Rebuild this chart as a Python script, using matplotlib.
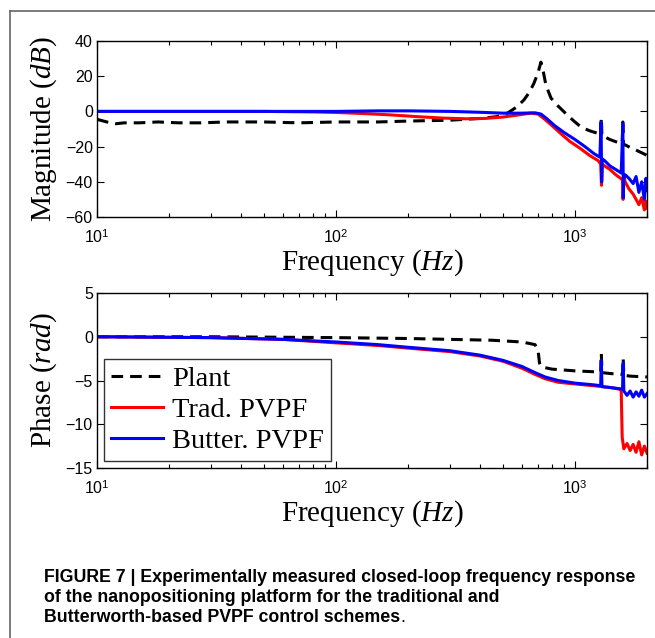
import matplotlib
matplotlib.use("Agg")
import matplotlib.pyplot as plt
from matplotlib.lines import Line2D
from matplotlib.ticker import FixedLocator, LogLocator, NullFormatter

# ---------------- data ----------------
plant_mag_f = [10, 11, 12, 13, 15, 18, 22, 27, 35, 50, 70, 100, 150, 200, 300, 400, 470, 524,
               570, 611, 645, 673, 700, 720, 738, 755, 793, 850, 900, 980, 1059, 1150, 1248,
               1280, 1288, 1296, 1310, 1400, 1500, 1575, 1585, 1595, 1620, 1700, 1800, 1900, 2000]
plant_mag_db = [-4.5, -6, -7, -6.5, -6.5, -6, -6.5, -6.5, -6, -6, -6.5, -6, -6, -5.5, -5, -4, -3,
                -0.8, 2.5, 6.5, 11, 16, 22, 28, 22, 15, 7.6, 3, -0.3, -5, -8.9, -11, -12.5,
                -13, -3.5, -14, -14, -16, -17.5, -18, -6, -19, -19, -20.5, -22, -23.5, -25]

trad_mag_f = [10, 20, 50, 80, 100, 130, 170, 220, 280, 350, 420, 500, 580, 650, 700, 740, 800,
              870, 950, 1050, 1150, 1250, 1280, 1290, 1300, 1330, 1400, 1480, 1550, 1580, 1588,
              1600, 1620, 1680, 1750, 1800, 1850, 1900, 1950, 1980, 2000]
trad_mag_db = [0, 0, 0, -0.3, -0.6, -1.2, -2, -3, -3.8, -4.2, -4, -3.2, -2, -1, -1.5, -4, -8,
               -12.5, -17, -21, -25, -28, -30, -42, -30, -31, -33, -36, -38, -39, -50, -37, -40,
               -44, -47, -50, -53, -49, -56, -51, -55]

butter_mag_f = [10, 20, 50, 100, 150, 200, 300, 400, 500, 600, 680, 720, 760, 820, 900, 1000,
                1100, 1200, 1270, 1285, 1292, 1300, 1330, 1400, 1480, 1560, 1585, 1592, 1600,
                1620, 1680, 1750, 1800, 1850, 1900, 1950, 1980, 2000]
butter_mag_db = [0, 0, 0, 0, 0.3, 0.3, 0, -0.5, -1, -1, -0.8, -1.5, -4, -8, -12, -16, -20, -24,
                 -26, -6, -40, -27, -28, -31, -33, -35, -7, -49, -36, -36, -38, -41, -37, -46,
                 -40, -50, -38, -45]

plant_ph_f = [10, 30, 100, 200, 300, 450, 600, 680, 700, 710, 720, 740, 800, 1000, 1200, 1280,
              1288, 1296, 1400, 1550, 1580, 1590, 1600, 1700, 2000]
plant_ph_rad = [0, 0, -0.1, -0.2, -0.3, -0.4, -0.6, -0.9, -1.5, -3, -3.4, -3.5, -3.7, -3.9,
                -4.0, -4.0, -1.9, -4.1, -4.2, -4.3, -4.3, -2.5, -4.4, -4.5, -4.6]

trad_ph_f = [10, 30, 60, 100, 150, 200, 300, 400, 500, 600, 680, 750, 850, 1000, 1200, 1400,
             1540, 1560, 1575, 1600, 1650, 1700, 1750, 1800, 1850, 1900, 1950, 2000]
trad_ph_rad = [0, -0.1, -0.3, -0.7, -1.0, -1.3, -1.7, -2.2, -2.8, -3.6, -4.3, -4.8, -5.2, -5.4,
               -5.6, -5.8, -6.0, -6.1, -11.5, -12.8, -12.2, -13.0, -12.3, -13.2, -12.0, -13.5,
               -12.5, -13.3]

butter_ph_f = [10, 30, 60, 100, 150, 200, 300, 400, 500, 600, 680, 750, 850, 1000, 1200, 1280,
               1288, 1296, 1400, 1500, 1580, 1590, 1600, 1650, 1700, 1750, 1800, 1850, 1900,
               1950, 2000]
butter_ph_rad = [0, -0.1, -0.3, -0.6, -0.9, -1.2, -1.6, -2.1, -2.7, -3.4, -4.1, -4.6, -5.0,
                 -5.3, -5.5, -5.6, -2.7, -5.7, -5.8, -5.9, -6.0, -3.0, -6.2, -6.7, -6.2, -6.9,
                 -6.3, -6.8, -6.1, -6.9, -6.5]

series_labels = ["Plant", "Trad. PVPF", "Butter. PVPF"]
xticks = [10, 100, 1000]
xtick_labels = [r"$10^{1}$", r"$10^{2}$", r"$10^{3}$"]
mag_yticks = [-60, -40, -20, 0, 20, 40]
phase_yticks = [-15, -10, -5, 0, 5]
caption_lines = ["FIGURE 7 | Experimentally measured closed-loop frequency response",
                 "of the nanopositioning platform for the traditional and",
                 "Butterworth-based PVPF control schemes"]

# ---------------- style ----------------
plt.rcParams["font.family"] = ["Liberation Serif", "DejaVu Serif"]
plt.rcParams["mathtext.fontset"] = "custom"
plt.rcParams["mathtext.rm"] = "Liberation Sans"
plt.rcParams["mathtext.it"] = "Liberation Serif:italic"
plt.rcParams["mathtext.bf"] = "Liberation Sans:bold"

W, H = 655, 638
fig = plt.figure(figsize=(W / 100, H / 100), dpi=100)

def px_axes(l, t, r, b):
    return fig.add_axes([l / W, 1 - b / H, (r - l) / W, (b - t) / H])

ax1 = px_axes(97, 41, 647, 217)
ax2 = px_axes(97, 293, 647, 468)

lw = 2.2
dash = (0, (3.8, 2.3))
ax1.plot(plant_mag_f, plant_mag_db, color="black", lw=lw, ls=dash)
ax1.plot(trad_mag_f, trad_mag_db, color="#ff0000", lw=lw)
ax1.plot(butter_mag_f, butter_mag_db, color="#0000ff", lw=lw)

ax2.plot(plant_ph_f, plant_ph_rad, color="black", lw=lw, ls=dash, label=series_labels[0])
ax2.plot(trad_ph_f, trad_ph_rad, color="#ff0000", lw=lw, label=series_labels[1])
ax2.plot(butter_ph_f, butter_ph_rad, color="#0000ff", lw=lw, label=series_labels[2])

for ax, yt, ylim, ylab in [(ax1, mag_yticks, (-60, 40), r"Magnitude ($dB$)"),
                           (ax2, phase_yticks, (-15, 5), r"Phase ($rad$)")]:
    ax.set_xscale("log")
    ax.set_xlim(10, 2000)
    ax.set_ylim(*ylim)
    ax.xaxis.set_major_locator(FixedLocator(xticks))
    ax.set_xticklabels(xtick_labels)
    ax.xaxis.set_minor_locator(LogLocator(base=10, subs=range(2, 10)))
    ax.xaxis.set_minor_formatter(NullFormatter())
    ax.set_yticks(yt)
    ax.set_yticklabels([str(v).replace("-", "\u2212") for v in yt])
    ax.tick_params(which="both", direction="in", top=True, right=True, width=0.8,
                   labelsize=11.5)
    ax.tick_params(axis="y", pad=3)
    ax.tick_params(axis="x", pad=8)
    ax.tick_params(which="major", length=5)
    ax.tick_params(which="minor", length=3)
    for lab in ax.get_yticklabels() + ax.get_xticklabels():
        lab.set_fontfamily("Liberation Sans")
    for s in ax.spines.values():
        s.set_linewidth(1.0)
    ax.set_xlabel(r"Frequency ($Hz$)", fontsize=21, labelpad=1)
    ax.set_ylabel(ylab, fontsize=21, labelpad=5)

leg = ax2.legend(loc="lower left", bbox_to_anchor=(0.012, 0.04), fontsize=20.5,
                 frameon=True, fancybox=False, edgecolor="#333333", framealpha=1,
                 handlelength=1.85, handletextpad=0.3, labelspacing=0.17,
                 borderpad=0.25, borderaxespad=0)
leg.get_frame().set_linewidth(1.0)

# frame around the figure panel
fig.add_artist(Line2D([10 / W, 10 / W], [0, 1 - 11 / H], transform=fig.transFigure,
                      color="#666666", lw=1.2))
fig.add_artist(Line2D([10 / W, 1], [1 - 11 / H, 1 - 11 / H], transform=fig.transFigure,
                      color="#666666", lw=1.2))

cap_y = [577, 597, 617]
for i, (line, y) in enumerate(zip(caption_lines, cap_y)):
    t = fig.text(44 / W, 1 - y / H, line, fontsize=12.8, fontweight="bold",
                 family=["Liberation Sans", "DejaVu Sans"], va="center", ha="left")
# trailing non-bold period
fig.canvas.draw()
r = fig.canvas.get_renderer()
bb = t.get_window_extent(renderer=r)
fig.text(bb.x1 / W, 1 - cap_y[-1] / H, ".", fontsize=12.8,
         family=["Liberation Sans", "DejaVu Sans"], va="center", ha="left")

fig.savefig("out.png", dpi=100)
